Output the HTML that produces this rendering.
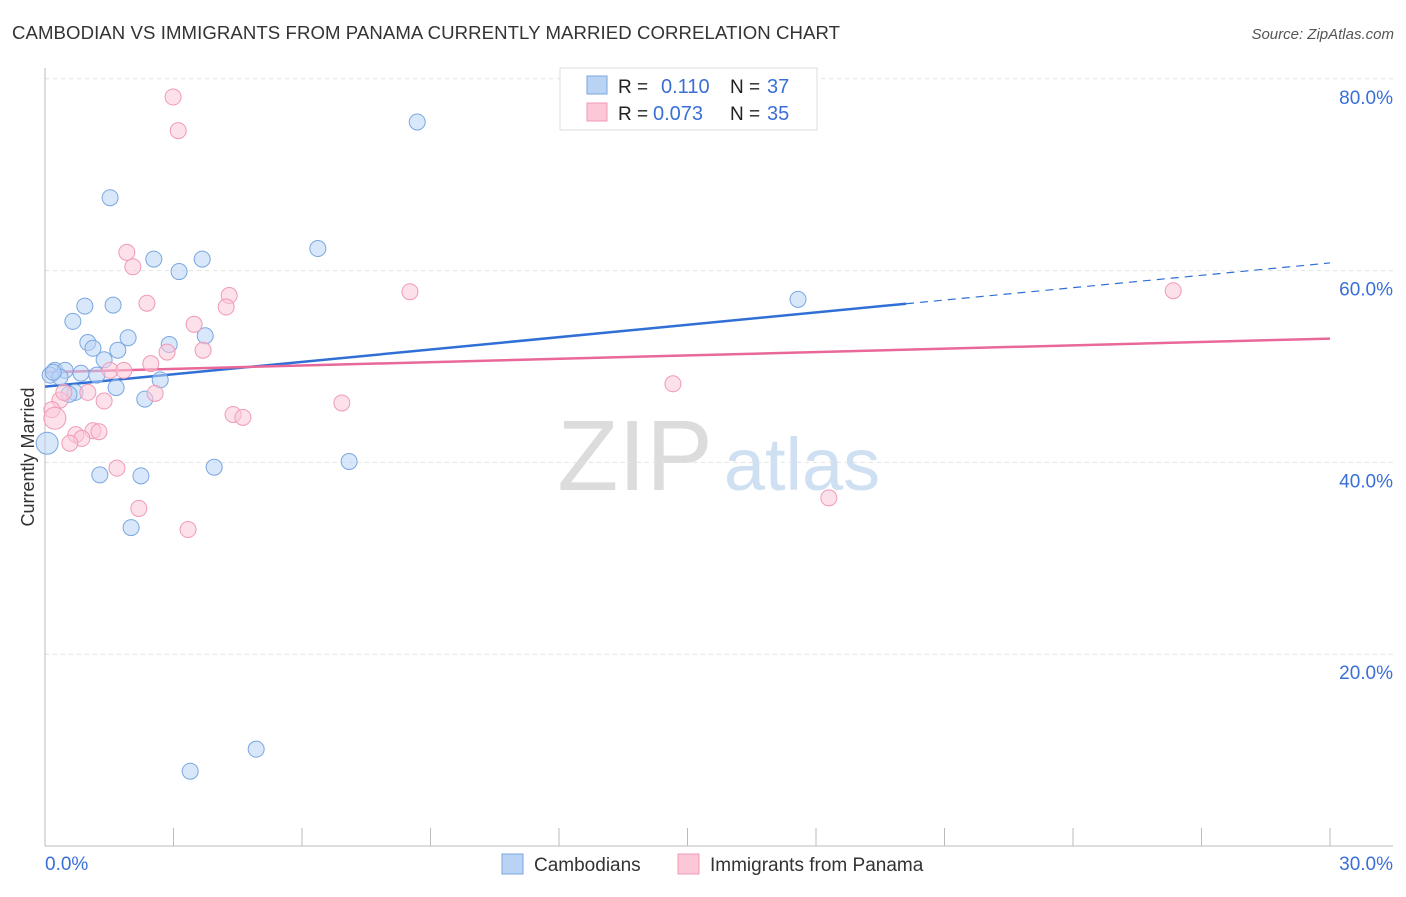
<!DOCTYPE html>
<html><head><meta charset="utf-8">
<style>
body{margin:0;background:#fff;font-family:"Liberation Sans",sans-serif;}
svg text{font-family:"Liberation Sans",sans-serif;}
</style></head>
<body>
<svg id="chart" width="1406" height="892" xmlns="http://www.w3.org/2000/svg">
<text x="12" y="39" font-size="18.6" fill="#333" textLength="828">CAMBODIAN VS IMMIGRANTS FROM PANAMA CURRENTLY MARRIED CORRELATION CHART</text>
<text x="1394" y="39" font-size="15" fill="#555" text-anchor="end" font-style="italic">Source: ZipAtlas.com</text>
<text x="0" y="0" transform="translate(34,457) rotate(-90)" font-size="18" fill="#333" text-anchor="middle">Currently Married</text>
<g>
<text x="635" y="490" font-size="100" fill="#dcdcdc" font-family="Liberation Serif" text-anchor="middle">ZIP</text>
<text x="802" y="490" font-size="74" fill="#cfe0f3" text-anchor="middle">atlas</text>
</g>
<g id="grid"></g>
<g id="axes"></g>
<g id="lines"></g>
<g id="pts"></g>
<g>
<rect x="560" y="68" width="257" height="62" fill="#fff" stroke="#ddd"/>
<rect x="587" y="76" width="20" height="18" fill="#b9d3f5" stroke="#7aa7e0"/>
<rect x="587" y="103" width="20" height="18" fill="#fcc8d8" stroke="#f09ab5"/>
<text x="618" y="93" font-size="19" fill="#222">R = </text><text x="661" y="93" font-size="20" fill="#3a6fd8">0.110</text>
<text x="730" y="93" font-size="19" fill="#222">N = </text><text x="767" y="93" font-size="20" fill="#3a6fd8">37</text>
<text x="618" y="120" font-size="19" fill="#222">R = </text><text x="653" y="120" font-size="20" fill="#3a6fd8">0.073</text>
<text x="730" y="120" font-size="19" fill="#222">N = </text><text x="767" y="120" font-size="20" fill="#3a6fd8">35</text>
</g>
<g>
<rect x="502" y="854" width="21" height="20" fill="#b9d3f5" stroke="#7aa7e0"/>
<text x="534" y="871" font-size="19" fill="#333">Cambodians</text>
<rect x="678" y="854" width="21" height="20" fill="#fcc8d8" stroke="#f09ab5"/>
<text x="710" y="871" font-size="19" fill="#333">Immigrants from Panama</text>
</g>
</svg>
<script>
const yTicks=[20,40,60,80];
const yTickLabels=["20.0%","40.0%","60.0%","80.0%"];
const xTickLabels=["0.0%","30.0%"];
const blueX=[8.69,1.52,6.37,2.54,3.67,3.13,17.58,0.93,1.59,0.65,1.94,3.74,1.00,1.12,2.90,1.70,1.38,0.23,0.47,0.12,0.35,0.84,1.21,2.69,1.66,0.70,0.56,2.33,0.05,3.95,1.28,2.24,7.10,2.01,4.93,3.39,0.19];
const blueY=[75.5,67.6,62.3,61.2,61.2,59.9,57.0,56.3,56.4,54.7,53.0,53.2,52.5,51.9,52.3,51.7,50.7,49.6,49.6,49.1,48.9,49.3,49.1,48.6,47.8,47.3,47.1,46.6,42.0,39.5,38.7,38.6,40.1,33.2,10.1,7.8,49.4];
const pinkX=[2.99,3.11,1.91,2.05,8.52,26.34,4.30,2.38,4.23,3.48,3.69,2.85,2.47,1.52,1.84,14.66,2.57,1.00,0.35,1.38,0.16,6.93,4.39,4.62,0.23,1.12,1.26,0.72,0.86,0.58,1.68,18.30,2.19,3.34,0.44];
const pinkY=[78.1,74.6,61.9,60.4,57.8,57.9,57.4,56.6,56.2,54.4,51.7,51.5,50.3,49.6,49.6,48.2,47.2,47.3,46.5,46.4,45.5,46.2,45.0,44.7,44.6,43.3,43.2,42.9,42.5,42.0,39.4,36.3,35.2,33.0,47.3];
const blueTrend=[47.9,0.43]; // intercept, slope
const pinkTrend=[49.4,0.117];
const blueSolidEnd=20.1;

const NS="http://www.w3.org/2000/svg";
const X0=45,X1=1330,Y0=846,Yp=9.59;
const sx=v=>X0+(X1-X0)*v/30;
const sy=v=>Y0-v*Yp;
function mk(tag,attrs,parent){const e=document.createElementNS(NS,tag);for(const k in attrs)e.setAttribute(k,attrs[k]);parent.appendChild(e);return e;}
const grid=document.getElementById('grid'),axes=document.getElementById('axes'),lines=document.getElementById('lines'),pts=document.getElementById('pts');
yTicks.forEach((t,i)=>{
  const l=mk('line',{x1:X0,x2:1393,y1:sy(t),y2:sy(t),stroke:'#e3e3e3','stroke-dasharray':'4,4'},grid);
  
  
  const tx=mk('text',{x:1393,y:sy(t)+25,'font-size':19,fill:'#3a6fd8','text-anchor':'end'},grid);
  tx.textContent=yTickLabels[i];
  
  
});
const ya=mk('line',{x1:X0,x2:X0,y1:68,y2:Y0,stroke:'#bbb'},axes);


const xa=mk('line',{x1:X0,x2:1393,y1:Y0,y2:Y0,stroke:'#bbb'},axes);


for(let v=0;v<=30;v+=3){
  const t=mk('line',{x1:sx(v),x2:sx(v),y1:828,y2:Y0,stroke:'#bbb'},axes);
  
  
}
[[0,'start',X0],[30,'end',1393]].forEach((d,i)=>{
  const tx=mk('text',{x:d[2],y:870,'font-size':19,fill:'#3a6fd8','text-anchor':d[1]},axes);
  tx.textContent=xTickLabels[i];
  
  
});
function pointsOf(xs,ys,fill,stroke,name){
  xs.forEach((x,i)=>{
    const big=x<0.3&&(ys[i]<43&&ys[i]>41||ys[i]>44&&ys[i]<45);
    const c=mk('circle',{cx:sx(x),cy:sy(ys[i]),r:big?11:8,fill:fill,'fill-opacity':0.55,stroke:stroke,'stroke-width':1},pts);
    
    
  });
}
pointsOf(blueX,blueY,'#b9d3f5','#7aa7e0','cambodian-point');
pointsOf(pinkX,pinkY,'#fcc8d8','#f09ab5','panama-point');
const bl=mk('line',{x1:sx(0),y1:sy(blueTrend[0]),x2:sx(blueSolidEnd),y2:sy(blueTrend[0]+blueTrend[1]*blueSolidEnd),stroke:'#2f6fd6','stroke-width':2.5},lines);


const bd=mk('line',{x1:sx(blueSolidEnd),y1:sy(blueTrend[0]+blueTrend[1]*blueSolidEnd),x2:sx(30),y2:sy(blueTrend[0]+blueTrend[1]*30),stroke:'#2f6fd6','stroke-width':1.2,'stroke-dasharray':'8,6'},lines);


const pl=mk('line',{x1:sx(0),y1:sy(pinkTrend[0]),x2:sx(30),y2:sy(pinkTrend[0]+pinkTrend[1]*30),stroke:'#e8689a','stroke-width':2.5},lines);


</script>
</body></html>
